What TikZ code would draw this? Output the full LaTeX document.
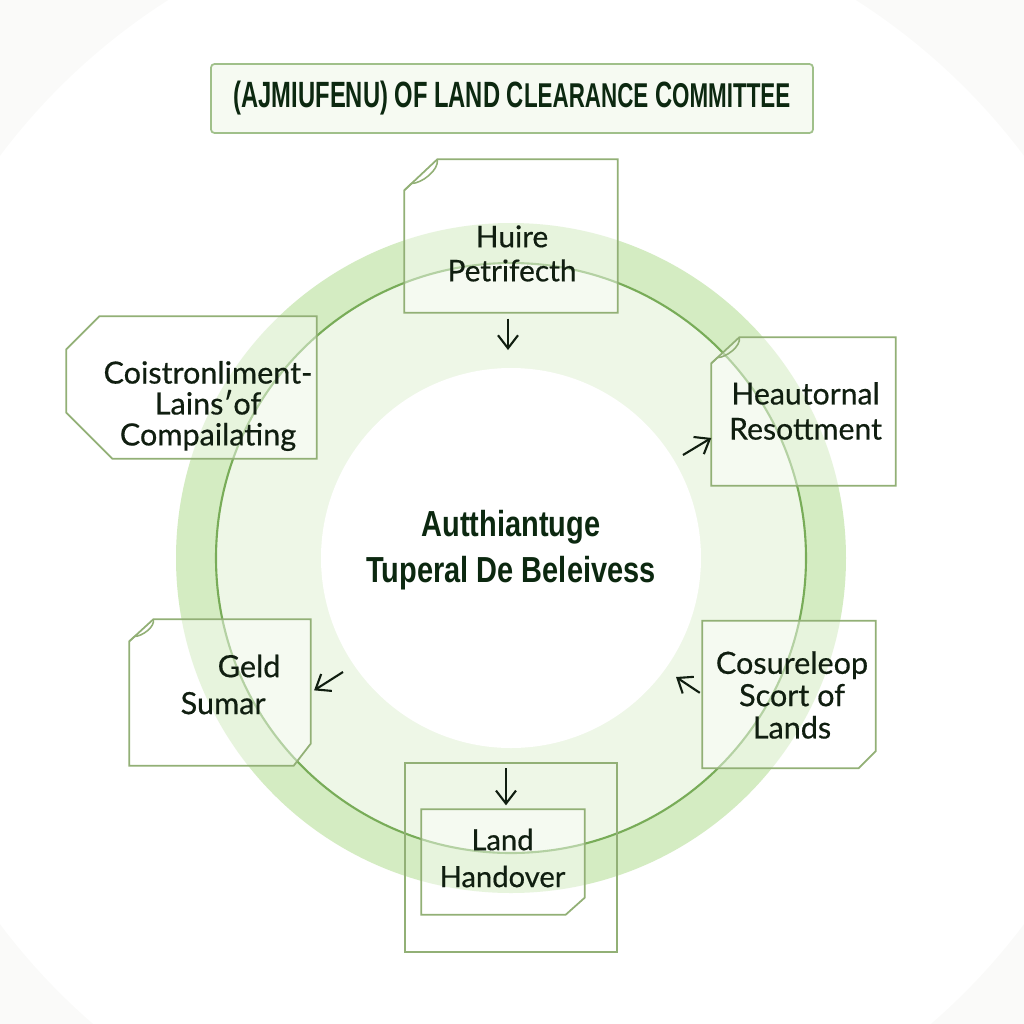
\documentclass[tikz,border=0pt]{standalone}
\usepackage{fontspec}
\setmainfont{Lato}[FakeBold=0.5]
\newfontfamily\condfont[FakeStretch=0.8]{Liberation Sans}
\newfontfamily\titlefont[FakeStretch=0.65]{Liberation Sans}
\usepackage{tikz}
\usetikzlibrary{arrows.meta, calc}
\definecolor{boxline}{RGB}{146,176,118}
\definecolor{ringline}{RGB}{120,172,88}
\definecolor{bandouter}{RGB}{212,236,194}
\definecolor{bandinner}{RGB}{238,247,231}
\definecolor{titlefill}{RGB}{246,250,242}
\definecolor{titleline}{RGB}{160,192,138}
\definecolor{inkdark}{RGB}{16,30,16}
\definecolor{inkgreen}{RGB}{12,40,16}
\definecolor{bgwash}{RGB}{250,250,249}

\begin{document}
\begin{tikzpicture}[
        box/.style={rectangle, inner sep=0pt},
        edge/.style={draw=boxline, line width=0.5pt, fill=white, fill opacity=0.45},
        frame/.style={rectangle, draw=boxline, line width=0.5pt, inner sep=0pt},
        boxtext/.style={align=center, text=inkdark, inner sep=0pt},
        titlebox/.style={draw=titleline, fill=titlefill, rounded corners=1pt, line width=0.5pt, text=inkgreen,
                         font=\titlefont\bfseries\fontsize{10.4}{11}\selectfont},
        coretext/.style={align=center, text=inkgreen, inner sep=0pt, font=\condfont\bfseries\fontsize{10.3}{13}\selectfont},
        fold/.style={draw=boxline, line width=0.45pt},
        arr/.style={draw=inkdark, line width=0.6pt, -{Straight Barb[length=1.3mm, width=2mm]}}
    ]
        \useasboundingbox (0,0) rectangle (10.24,-10.24);
        % -- backdrop --
        \fill[bgwash] (0,0) rectangle (10.24,-10.24);
        \fill[white] (5.12,-5.40) circle (6.4);

        % -- ring --
        \coordinate (ring) at (5.11,-5.58);
        \fill[bandouter] (ring) circle (3.35);
        \fill[bandinner] (ring) circle (2.95);
        \fill[white] (ring) circle (1.90);
        \draw[ringline, line width=0.6pt] (ring) circle (2.95);

        % -- title --
        \node[titlebox, minimum width=6.02cm, minimum height=0.69cm] (title) at (5.12,-0.985)
            {(AJMIUFENU) OF LAND C{\fontsize{9.8}{11}\selectfont LEARANCE} C{\fontsize{9.8}{11}\selectfont OMMITTEE}};

        % -- boxes round the ring --
        \node[box, minimum width=2.12cm, minimum height=1.52cm] (hp) at (5.11,-2.36) {};
        \node[box, minimum width=2.49cm, minimum height=1.41cm] (lt) at (1.915,-3.875) {};
        \node[box, minimum width=1.83cm, minimum height=1.47cm] (hr) at (8.035,-4.115) {};
        \node[box, minimum width=1.80cm, minimum height=1.45cm] (gs) at (2.20,-6.925) {};
        \node[box, minimum width=1.72cm, minimum height=1.46cm] (cs) at (7.89,-6.945) {};
        \node[frame, minimum width=2.12cm, minimum height=1.89cm] (lf) at (5.11,-8.575) {};
        \node[box, minimum width=1.62cm, minimum height=1.04cm] (lh) at (5.03,-8.62) {};

        % outlines with cut corners
        \draw[edge] ($(hp.north west)+(0.33,0)$) -- (hp.north east) -- (hp.south east) -- (hp.south west)
            -- ($(hp.north west)+(0,-0.31)$) -- cycle;
        \draw[edge] ($(lt.north west)+(0.33,0)$) -- (lt.north east) -- (lt.south east) -- ($(lt.south west)+(0.46,0)$)
            -- ($(lt.south west)+(0,0.46)$) -- ($(lt.north west)+(0,-0.33)$) -- cycle;
        \draw[edge] ($(hr.north west)+(0.28,0)$) -- (hr.north east) -- (hr.south east) -- (hr.south west)
            -- ($(hr.north west)+(0,-0.26)$) -- cycle;
        \draw[edge] ($(gs.north west)+(0.24,0)$) -- (gs.north east) -- ($(gs.south east)+(0,0.22)$)
            -- ($(gs.south east)+(-0.17,0)$) -- (gs.south west) -- ($(gs.north west)+(0,-0.22)$) -- cycle;
        \draw[edge] (cs.north west) -- (cs.north east) -- ($(cs.south east)+(0,0.17)$)
            -- ($(cs.south east)+(-0.17,0)$) -- (cs.south west) -- cycle;
        \draw[edge] (lh.north west) -- (lh.north east) -- ($(lh.south east)+(0,0.17)$)
            -- ($(lh.south east)+(-0.19,0)$) -- (lh.south west) -- cycle;

        % dog-ears
        \foreach \n/\sx/\sy in {hp/0.33/0.31, hr/0.28/0.26, gs/0.24/0.22}
            \draw[fold] ($(\n.north west)+(\sx,0)$) .. controls +(0.02,-0.35*\sy) and +(0.3*\sx,0) .. ($(\n.north west)+(0.22*\sx,-0.78*\sy)$)
                -- ($(\n.north west)+(0,-\sy)$);

        % -- texts --
        \node[boxtext, font=\fontsize{8.5}{9.7}\selectfont] (hp-t) at (5.12,-2.535) {Huire\\Petrifecth};
        \node[boxtext, font=\fontsize{8.7}{8.8}\selectfont] (lt-t) at (2.08,-4.06) {Coistronliment-\\Lains′of\\Compailating};
        \node[boxtext, font=\fontsize{8.6}{10}\selectfont] (hr-t) at (8.055,-4.11) {Heautornal\\Resottment};
        \node[boxtext, align=left, anchor=west, font=\fontsize{8.7}{10.5}\selectfont] (gs-t) at (1.80,-6.845) {\hspace*{0.37cm}Geld\\Sumar};
        \node[boxtext, font=\fontsize{8.7}{9.2}\selectfont] (cs-t) at (7.92,-6.95) {Cosureleop\\Scort of\\Lands};
        \node[boxtext, font=\fontsize{8.3}{10.5}\selectfont] (lh-t) at (5.025,-8.58) {Land\\Handover};
        \node[coretext] (core) at (5.11,-5.50) {Autthiantuge\\Tuperal De Beleivess};

        % -- arrows --
        \coordinate (d1) at (5.08,-3.50);
        \coordinate (d2) at (6.83,-4.55);
        \coordinate (d3) at (3.43,-6.72);
        \coordinate (d4) at (6.76,-6.77);
        \coordinate (d5) at (5.06,-7.63);
        \draw[arr, shorten <=0.06cm] (d1 |- hp.south) -- (d1);
        \draw[arr] (d2) -- (hr.196);
        \draw[arr, shorten >=0.04cm] (d3) -- (gs.east);
        \draw[arr, shorten <=0.03cm] (cs.west) -- (d4);
        \draw[arr, shorten <=0.05cm, shorten >=0.04cm] (d5) -- (d5 |- lh.north);
\end{tikzpicture}
\end{document}
